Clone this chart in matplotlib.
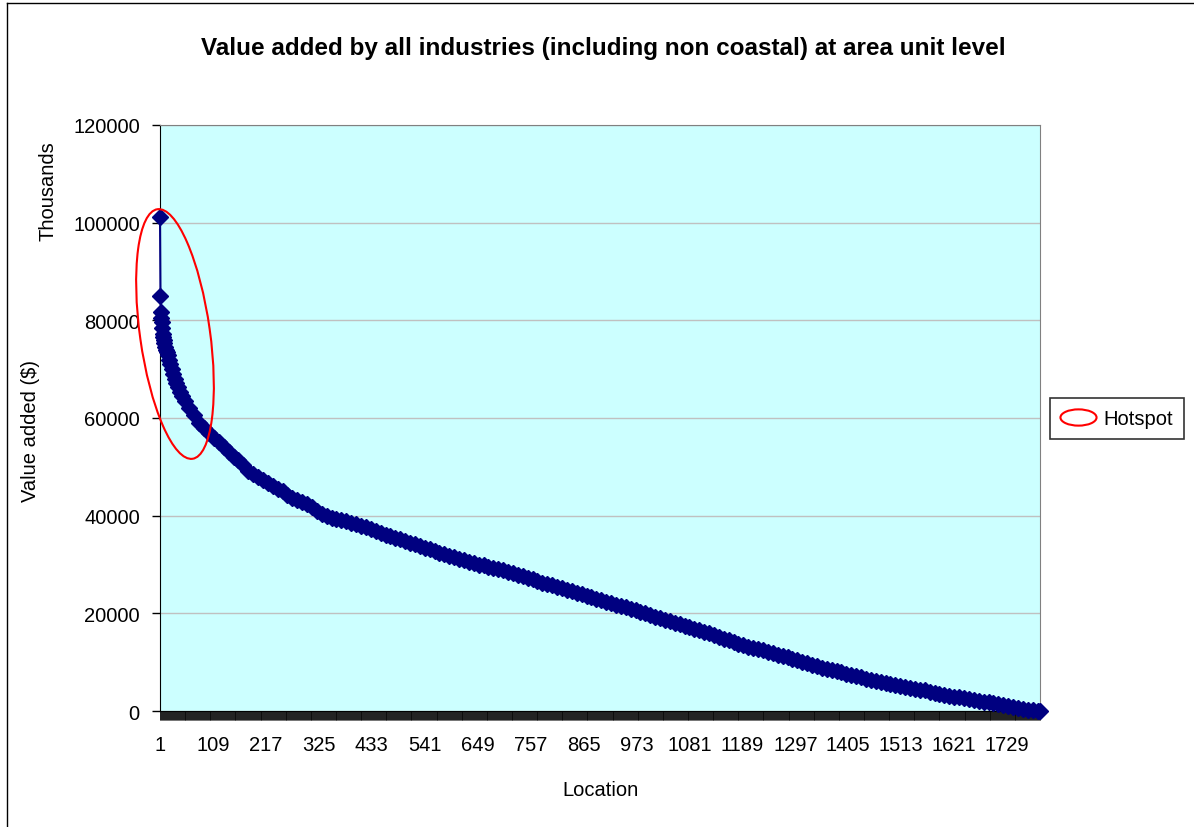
import matplotlib
matplotlib.use("Agg")
import matplotlib.pyplot as plt
from matplotlib.patches import Ellipse
from matplotlib.lines import Line2D
from matplotlib.path import Path
from matplotlib.transforms import Affine2D

# data (value added, thousands $, ranked by location)
n_locations = 1796
early_locations = [1, 2, 3, 4, 5, 6, 7, 8, 9, 10, 12, 14, 16, 18, 20, 22,
                   25, 28, 31, 34, 37, 41, 45, 51]
locations = early_locations + list(range(61, 1792, 10)) + [1796]
values = [
    101200, 84900, 81800, 80500, 79600, 78500, 77200, 76600, 76000, 75300,
    74600, 74000, 73500, 73000, 71800, 71000, 70000, 69000, 68000, 67200,
    66300, 65400, 64500, 63400,
    62000, 60700, 59000, 57900, 57000,
    56000, 55000, 54000, 53000, 52000, 51300, 50300, 49200, 48500, 47900,
    47300, 46700, 46100, 45500, 45000, 44300, 43700, 43300, 42900, 42300,
    41700, 41000, 40400, 40000, 39600, 39300, 39100, 38900, 38600, 38300,
    37900, 37600, 37200, 36800, 36400, 36100, 35800, 35500, 35200, 34900,
    34500, 34100, 33800, 33400, 33100, 32800, 32400, 32100, 31800, 31500,
    31200, 30900, 30600, 30300, 30000, 29800, 29500, 29300, 29000, 28800,
    28500, 28200, 27900, 27600, 27300, 27000, 26700, 26300, 26000, 25700,
    25400, 25100, 24800, 24500, 24200, 23900, 23600, 23300, 23000, 22700,
    22400, 22100, 21800, 21500, 21200, 20900, 20600, 20300, 20000, 19700,
    19300, 19000, 18700, 18400, 18100, 17800, 17500, 17200, 16800, 16500,
    16200, 15900, 15500, 15200, 14800, 14500, 14100, 13800, 13500, 13200,
    12900, 12700, 12400, 12100, 11800, 11500, 11300, 11000, 10700, 10400,
    10100, 9800, 9500, 9200, 8900, 8600, 8400, 8100, 7900, 7600,
    7400, 7100, 6900, 6600, 6400, 6200, 6000, 5800, 5600, 5400,
    5200, 5000, 4800, 4600, 4400, 4200, 3900, 3700, 3500, 3300,
    3100, 2900, 2800, 2600, 2400, 2300, 2100, 1900, 1800, 1600,
    1400, 1200, 1000, 800, 600, 400, 250, 120, 40, 0,
]
x_labels = list(range(1, 1730, 108))
y_ticks = [0, 20000, 40000, 60000, 80000, 100000, 120000]

plt.rcParams['font.family'] = ['Liberation Sans', 'DejaVu Sans']
fs = 14.5

fig = plt.figure(figsize=(11.94, 8.28), dpi=100)
ax = fig.add_axes([160 / 1194, 1 - 712 / 828, 880 / 1194, 586 / 828])
ax.set_facecolor('#CCFFFF')

# overlapping diamonds read as one thick band, thin connecting line
ax.plot(locations, values, color='#000080', lw=1.5, marker='D', ms=8.3,
        mec='#000080', mfc='#000080', clip_on=False, zorder=3)

ax.set_xlim(1, n_locations)
ax.set_ylim(0, 120000)
ax.set_yticks(y_ticks)
ax.set_yticklabels([str(v) for v in y_ticks])
ax.set_xticks(x_labels)
ax.set_xticklabels([str(v) for v in x_labels])
ax.set_xticks(range(1, n_locations + 1), minor=True)
ax.tick_params(axis='x', which='both', direction='out', length=6.5, width=0.45,
               color='black', labelsize=fs, pad=11)
ax.tick_params(axis='y', direction='out', length=5.5, width=1,
               labelsize=fs, pad=9)
ax.grid(axis='y', color='#C0C0C0', lw=1)
ax.set_axisbelow(True)
for s in ['top', 'right']:
    ax.spines[s].set_color('#808080')
ax.spines['left'].set_color('black')
ax.spines['bottom'].set_color('black')

# titles
fig.text(603 / 1194, 1 - 49 / 828,
         'Value added by all industries (including non coastal) at area unit level',
         ha='center', va='center', fontsize=17.5, fontweight='bold')
fig.text(601 / 1194, 1 - 791 / 828, 'Location', ha='center', va='center', fontsize=fs)
fig.text(31 / 1194, 1 - 431 / 828, 'Value added ($)', ha='center', va='center',
         rotation=90, fontsize=fs)
fig.text(48 / 1194, 1 - 191 / 828, 'Thousands', ha='center', va='center',
         rotation=90, fontsize=fs)

# hotspot ellipse (drawn in inches so it keeps its shape)
hot = Ellipse((175 / 100, (828 - 335) / 100), 0.70, 2.52, angle=8,
              transform=fig.dpi_scale_trans, fill=False, ec='red', lw=1.5)
fig.add_artist(hot)

# chart area border (only left/top are inside the picture)
fig.add_artist(Line2D([7 / 1194, 7 / 1194], [0, 1 - 4 / 828], color='black', lw=1))
fig.add_artist(Line2D([7 / 1194, 1], [1 - 4 / 828, 1 - 4 / 828], color='black', lw=1))

# legend with ellipse marker
ell = Path.unit_circle().transformed(Affine2D().scale(1, 0.45))
handle = Line2D([], [], ls='none', marker=ell, ms=26, mfc='none', mec='red', mew=1.5)
leg = fig.legend([handle], ['Hotspot'], loc='center left',
                 bbox_to_anchor=(1050 / 1194, 1 - 419.5 / 828), borderaxespad=0,
                 fancybox=False, edgecolor='black', fontsize=fs,
                 handlelength=1.7, handletextpad=0.4, borderpad=0.55)
leg.get_frame().set_linewidth(1.2)

fig.savefig('out.png', dpi=100)
